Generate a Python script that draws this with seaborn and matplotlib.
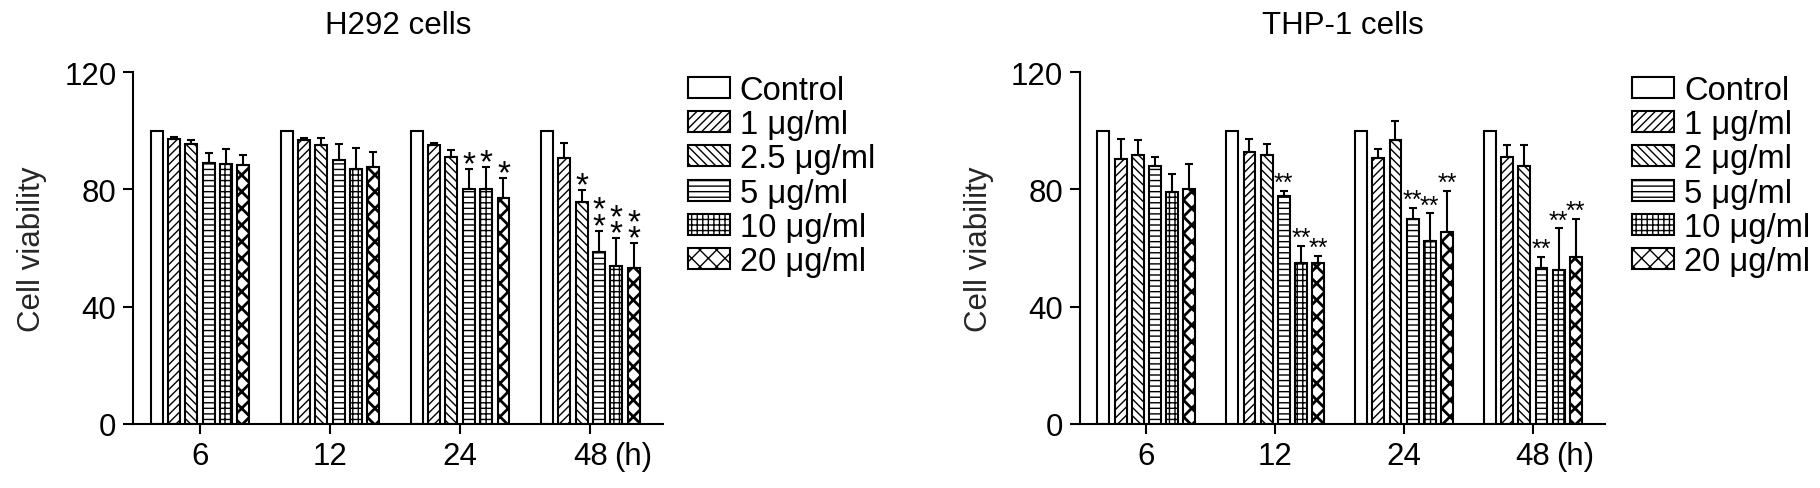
import pandas as pd
import seaborn as sns
import matplotlib.pyplot as plt
from matplotlib.patches import Patch

# Data
TIMES = ["6", "12", "24", "48"]
DOSES_H292 = ["Control", "1 μg/ml", "2.5 μg/ml", "5 μg/ml", "10 μg/ml", "20 μg/ml"]
DOSES_THP1 = ["Control", "1 μg/ml", "2 μg/ml", "5 μg/ml", "10 μg/ml", "20 μg/ml"]

# mean per time point (rows = dose, cols = 6, 12, 24, 48 h)
H292_MEAN = [
    [100, 100, 100, 100],
    [97.2, 96.7, 95.0, 90.7],
    [95.3, 95.2, 91.0, 75.8],
    [89.0, 90.1, 80.2, 58.8],
    [88.7, 87.0, 80.0, 53.8],
    [88.4, 87.6, 77.0, 53.1],
]
H292_SD = [
    [0, 0, 0, 0],
    [0.8, 0.8, 0.9, 5.1],
    [1.4, 2.3, 2.3, 4.1],
    [3.4, 5.5, 6.8, 7.1],
    [5.2, 7.1, 7.6, 9.5],
    [3.2, 5.1, 6.9, 8.5],
]
H292_STARS = [
    ["", "", "", ""],
    ["", "", "", ""],
    ["", "", "", "*"],
    ["", "", "*", "**"],
    ["", "", "*", "**"],
    ["", "", "*", "**"],
]

THP1_MEAN = [
    [100, 100, 100, 100],
    [90.5, 92.7, 90.7, 91.0],
    [91.6, 91.6, 96.7, 88.1],
    [87.9, 77.6, 70.0, 53.3],
    [79.1, 54.8, 62.3, 52.5],
    [80.2, 55.0, 65.5, 56.9],
]
THP1_SD = [
    [0, 0, 0, 0],
    [6.7, 4.5, 3.2, 4.0],
    [5.1, 3.9, 6.5, 6.9],
    [3.1, 2.0, 3.7, 3.7],
    [6.2, 5.9, 9.5, 14.2],
    [8.6, 2.3, 14.1, 13.1],
]
THP1_STARS = [
    ["", "", "", ""],
    ["", "", "", ""],
    ["", "", "", ""],
    ["", "**", "**", "**"],
    ["", "**", "**", "**"],
    ["", "**", "**", "**"],
]

HATCHES = ["", "////", "\\\\\\\\", "---", "+++", "xx"]
HATCH_LW = [1.0, 1.0, 1.0, 1.0, 1.0, 2.0]
FS = 22.5


def to_long(doses, means, sds):
    rows = []
    for i, d in enumerate(doses):
        for j, t in enumerate(TIMES):
            rows.append({"time": t, "dose": d, "value": means[i][j], "sd": sds[i][j]})
    return pd.DataFrame(rows)


def style_patch(p, i):
    p.set_facecolor("white")
    p.set_fill(True)
    p.set_edgecolor("black")
    p.set_linewidth(1.5)
    p.set_hatch(HATCHES[i])
    # per-patch hatch width where matplotlib supports it
    if hasattr(p, "set_hatch_linewidth"):
        p.set_hatch_linewidth(HATCH_LW[i])


def draw_panel(ax, doses, means, sds, stars, title, star_size, stacked, legend_x):
    df = to_long(doses, means, sds)
    sns.barplot(data=df, x="time", y="value", hue="dose", order=TIMES,
                hue_order=doses, errorbar=None, width=0.8, ax=ax,
                fill=False, legend=False)
    bars = [p for p in ax.patches][:len(doses) * len(TIMES)]
    bw = 0.092
    for k, p in enumerate(bars):
        i, j = divmod(k, len(TIMES))
        cx = p.get_x() + p.get_width() / 2
        p.set_x(cx - bw / 2)
        p.set_width(bw)
        style_patch(p, i)
        if i > 0:
            ax.errorbar(cx, means[i][j], yerr=[[0], [sds[i][j]]], fmt="none",
                        ecolor="black", elinewidth=1.5, capsize=3, capthick=1.5)
        s = stars[i][j]
        if s:
            top = means[i][j] + sds[i][j]
            if stacked:
                txt = "*\n*" if s == "**" else "*"
                ax.text(cx, top - 1.5, txt, ha="center", va="baseline",
                        fontsize=star_size, linespacing=0.4)
            else:
                ax.text(cx, top + 0.3, s, ha="center", va="baseline", fontsize=star_size)

    ax.set_ylim(0, 120)
    ax.set_yticks([0, 40, 80, 120])
    ax.set_xlim(-0.515, 3.56)
    ax.set_xlabel("")
    ax.set_ylabel("Cell viability", fontsize=FS, labelpad=12)
    ax.set_title(title, fontsize=FS, pad=28)
    ax.tick_params(axis="both", labelsize=FS, length=7, width=1.5, direction="out")
    ax.tick_params(axis="y", pad=5)
    ax.tick_params(axis="x", pad=5)
    for side in ["top", "right"]:
        ax.spines[side].set_visible(False)
    for side in ["left", "bottom"]:
        ax.spines[side].set_linewidth(1.5)
        ax.spines[side].set_color("black")
    ax.annotate("(h)", xy=(3, 0), xycoords=("data", "axes fraction"),
                xytext=(17, -12), textcoords="offset points",
                ha="left", va="top", fontsize=FS)

    handles = []
    for i in range(len(HATCHES)):
        h = Patch()
        style_patch(h, i)
        handles.append(h)
    ax.legend(handles, doses, loc="upper left", bbox_to_anchor=(legend_x, 0.845),
              bbox_transform=ax.figure.transFigure, frameon=False, fontsize=23.5,
              borderpad=0, borderaxespad=0, handlelength=1.29, handleheight=0.61,
              handletextpad=0.3, labelspacing=0.1)


def main():
    sns.set_theme(style="ticks")
    plt.rcParams["font.family"] = ["Liberation Sans", "DejaVu Sans"]
    plt.rcParams["hatch.linewidth"] = 1.0
    plt.rcParams["text.color"] = "black"
    plt.rcParams["xtick.color"] = "black"
    plt.rcParams["ytick.color"] = "black"

    fig = plt.figure(figsize=(18.2, 4.89), dpi=100)
    ax1 = fig.add_axes([0.0731, 0.1309, 0.2912, 0.7198])
    ax2 = fig.add_axes([0.5934, 0.1309, 0.2885, 0.7198])

    draw_panel(ax1, DOSES_H292, H292_MEAN, H292_SD, H292_STARS, "H292 cells", 24, True, 0.378)
    draw_panel(ax2, DOSES_THP1, THP1_MEAN, THP1_SD, THP1_STARS, "THP-1 cells", 18, False, 0.8967)

    fig.savefig("out.png", dpi=100)


if __name__ == "__main__":
    main()
